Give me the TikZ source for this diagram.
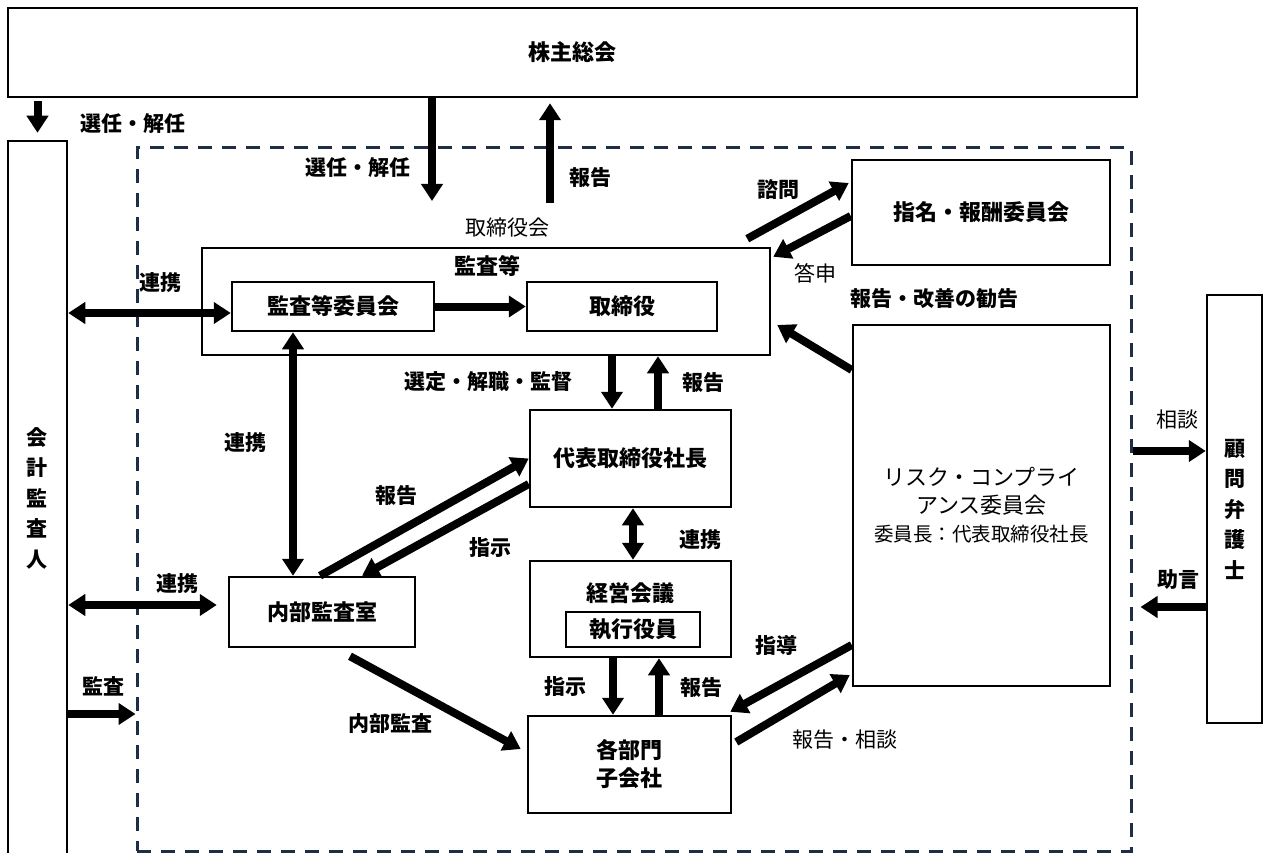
\documentclass[tikz,border=0pt]{standalone}
\usepackage{fontspec}
\setmainfont{Noto Sans CJK JP}
\usetikzlibrary{arrows.meta}
\definecolor{navy}{RGB}{31,45,70}
\newcommand{\fsA}{\fontsize{22}{28}\selectfont\bfseries}
\newcommand{\fsRisk}{\fontsize{22}{28}\selectfont}
\newcommand{\fsL}{\fontsize{21}{26}\selectfont\bfseries}
\newcommand{\fsR}{\fontsize{21}{26}\selectfont}
\newcommand{\fsV}{\fontsize{21}{30.5}\selectfont\bfseries}
\newcommand{\fsS}{\fontsize{19.5}{26}\selectfont}
\begin{document}
\begin{tikzpicture}[x=1pt,y=-1pt,
  box/.style={draw, line width=2.5pt, inner sep=0pt, align=center, font=\fsA},
  lbl/.style={inner sep=0pt, font=\fsL},
  rlbl/.style={inner sep=0pt, font=\fsR},
  arr/.style={line width=8pt, -{Triangle[length=17pt,width=21pt]}},
  darr/.style={line width=8pt, {Triangle[length=17pt,width=21pt]}-{Triangle[length=17pt,width=21pt]}},
  grpbox/.style={draw=navy, line width=3pt, dash pattern=on 14pt off 10pt, inner sep=0pt}]
\clip (0,0) rectangle (1268,853);
\fill[white] (0,0) rectangle (1268,853);

% group (dashed)
\node[grpbox, minimum width=994, minimum height=703] (grp) at (634,499.5) {};

% boxes
\node[box, minimum width=1129, minimum height=89] (kabu) at (572.5,52.5) {株主総会};
\node[box, minimum width=59, minimum height=714, font=\fsV] (kaikei) at (37.5,498) {会\\計\\監\\査\\人};
\node[box, minimum width=568, minimum height=107] (tori) at (486,301.5) {};
\node[rlbl, font=\fsA] (kansalbl) at (487,266) {監査等};
\node[box, minimum width=202, minimum height=49] (kiin) at (333,306.5) {監査等委員会};
\node[box, minimum width=190, minimum height=49] (tsr) at (622,306.5) {取締役};
\node[box, minimum width=201, minimum height=97] (daihyo) at (630.5,458.5) {代表取締役社長};
\node[box, minimum width=186, minimum height=70] (naibu) at (322,612) {内部監査室};
\node[box, minimum width=201, minimum height=96] (keiei) at (630.5,609) {};
\node[rlbl, font=\fsA] (keieilbl) at (630,593) {経営会議};
\node[box, minimum width=134, minimum height=35] (shikko) at (633,629.5) {執行役員};
\node[box, minimum width=203, minimum height=97] (kakubu) at (629.5,764.5) {各部門\\子会社};
\node[box, minimum width=258, minimum height=105] (shimei) at (981,212.5) {指名・報酬委員会};
\node[box, minimum width=257, minimum height=361, font=\fsRisk] (risk) at (981.5,505.5) {リスク・コンプライ\\アンス委員会\\{\fsS 委員長：代表取締役社長}};
\node[box, minimum width=55, minimum height=428, font=\fsV] (komon) at (1234.5,509) {顧\\問\\弁\\護\\士};

% helper coordinates
\coordinate (c2) at (432,201);
\coordinate (c3) at (550,203);
\coordinate (c5) at (0,313);
\coordinate (c6) at (293,0);
\coordinate (c7) at (612,0);
\coordinate (c8) at (658,0);
\coordinate (c11) at (633,0);
\coordinate (c12) at (613,0);
\coordinate (c13) at (659,0);
\coordinate (c15) at (0,605);
\coordinate (c16) at (0,714);
\coordinate (c22) at (0,451);
\coordinate (c23) at (0,607);

% arrows
\draw[arr] ([yshift=-3pt]kabu.south -| kaikei.north) -- ([yshift=7pt]kaikei.north);
\draw[arr] (kabu.south -| c2) -- (c2);
\draw[arr] (c3) -- ([yshift=-5pt]kabu.south -| c3);
\draw[arr] (kiin.east) -- (tsr.west);
\draw[darr] (kaikei.east |- c5) -- (kiin.west |- c5);
\draw[darr] (kiin.south -| c6) -- (naibu.north -| c6);
\draw[arr] (tori.south -| c7) -- (daihyo.north -| c7);
\draw[arr] (daihyo.north -| c8) -- (tori.south -| c8);
\draw[arr] ([xshift=-2pt]naibu.north) -- (daihyo.west);
\draw[arr] ([yshift=-25.5pt]daihyo.west) -- ([xshift=40pt]naibu.north);
\draw[darr] (daihyo.south -| c11) -- (keiei.north -| c11);
\draw[arr] (keiei.south -| c12) -- (kakubu.north -| c12);
\draw[arr] (kakubu.north -| c13) -- (keiei.south -| c13);
\draw[arr] ([xshift=28pt,yshift=-8pt]naibu.south) -- ([xshift=-6pt,yshift=15.5pt]kakubu.west);
\draw[darr] (kaikei.east |- c15) -- ([xshift=-11pt]naibu.west |- c15);
\draw[arr] (kaikei.east |- c16) -- (grp.west |- c16);
\draw[arr] ([xshift=-24pt,yshift=8pt]tori.north east) -- ([xshift=-2pt,yshift=29.5pt]shimei.west);
\draw[arr] ([yshift=-3.5pt]shimei.west) -- ([xshift=2pt,yshift=-10pt]tori.north east);
\draw[arr] ([yshift=135.5pt]risk.west) -- ([xshift=6pt,yshift=-23.5pt]tori.east);
\draw[arr] ([yshift=-139.5pt]risk.west) -- ([xshift=-2pt,yshift=3pt]kakubu.north east);
\draw[arr] ([xshift=4pt,yshift=22.5pt]kakubu.east) -- ([xshift=-2pt,yshift=-169.5pt]risk.west);
\draw[arr] (grp.east |- c22) -- (komon.west |- c22);
\draw[arr] (komon.west |- c23) -- ([xshift=8pt]grp.east |- c23);

% labels
\node[lbl] (l1) at (133,124) {選任・解任};
\node[lbl] (l2) at (358,168) {選任・解任};
\node[lbl] (l3) at (590,178) {報告};
\node[rlbl] (torilbl) at (507,228) {取締役会};
\node[lbl] (l5) at (160,283) {連携};
\node[lbl] (l6) at (245,443) {連携};
\node[lbl] (l7) at (488,382) {選定・解職・監督};
\node[lbl] (l8) at (703,383) {報告};
\node[lbl] (l9) at (396,496) {報告};
\node[lbl] (l10) at (490,548) {指示};
\node[lbl] (l11) at (700,540) {連携};
\node[lbl] (l12) at (565,687) {指示};
\node[lbl] (l13) at (701,688) {報告};
\node[lbl] (l14) at (390,724) {内部監査};
\node[lbl] (l15) at (177,584) {連携};
\node[lbl] (l16) at (103,686) {監査};
\node[lbl] (l17) at (778,190) {諮問};
\node[rlbl] (l18) at (815,273) {答申};
\node[lbl] (l19) at (934,299) {報告・改善の勧告};
\node[lbl] (l20) at (776,645) {指導};
\node[rlbl] (l21) at (845,740) {報告・相談};
\node[rlbl] (l22) at (1177,420) {相談};
\node[lbl] (l23) at (1178,580) {助言};
\end{tikzpicture}
\end{document}
